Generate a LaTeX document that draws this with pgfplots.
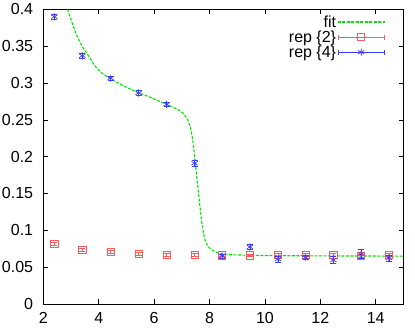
\documentclass[border=0pt]{standalone}
\usepackage{fontspec}
\setmainfont{Liberation Sans}
\usepackage{pgfplots}
\pgfplotsset{compat=1.18}
\usetikzlibrary{arrows.meta}
\definecolor{fitgreen}{RGB}{0,230,0}
\definecolor{repred}{RGB}{255,90,90}
\definecolor{repblue}{RGB}{60,60,255}
\begin{document}
\begin{tikzpicture}
\begin{axis}[
  name=ax,
  scale only axis,
  width=360.1pt, height=294.7pt,
  xmin=2, xmax=15, ymin=0, ymax=0.4,
  xtick={2,4,6,8,10,12,14},
  ytick={0,0.05,0.1,0.15,0.2,0.25,0.3,0.35,0.4},
  yticklabel style={/pgf/number format/fixed, /pgf/number format/precision=2, inner sep=0pt, xshift=-10pt},
  xticklabel style={inner sep=0pt, yshift=-8pt},
  /pgf/number format/assume math mode=true,
  tick label style={font=\fontsize{16}{19}\selectfont},
  tick align=inside,
  major tick length=4.7pt,
  axis line style={black, line width=0.8pt},
  every tick/.style={black, line width=0.6pt},
  legend plot pos=right,
  legend cell align=right,
  legend style={at={(1,1)}, anchor=north east, xshift=-18pt, yshift=-5pt,
    draw=none, fill=none, font=\fontsize{16}{17.5}\selectfont,
    inner sep=0pt, row sep=0pt,
    nodes={inner sep=1pt}},
]
\addplot[fitgreen, line width=1.1pt, dash pattern=on 3pt off 1.5pt, smooth, tension=0.4,
  legend image code/.code={\draw[fitgreen, line width=1.1pt, dash pattern=on 3pt off 1.5pt] (4pt,0pt) -- (51pt,0pt);}]
coordinates {
(2.87,0.400)(3.0,0.386)(3.18,0.367)(3.4,0.350)(3.63,0.337)(3.87,0.323)(4.1,0.314)(4.41,0.306)
(4.9,0.296)(5.43,0.287)(5.9,0.280)(6.45,0.271)(6.8,0.265)(7.05,0.259)(7.2,0.251)(7.3,0.241)
(7.38,0.226)(7.45,0.205)(7.52,0.180)(7.6,0.152)(7.68,0.124)(7.76,0.101)(7.84,0.087)(7.95,0.078)
(8.1,0.073)(8.3,0.0695)(8.6,0.0675)(9.0,0.0666)(10,0.0658)(12,0.0653)(15,0.0650)
};
\addlegendentry{fit}
\addplot[repred, line width=0.7pt, only marks, mark=square, mark size=3.6pt,
  legend image code/.code={\draw[repred, line width=0.7pt, {Bar[width=5pt]}-{Bar[width=5pt]}] (4pt,0pt) -- (51pt,0pt);
    \draw[repred, line width=0.7pt] plot[only marks, mark=square, mark size=3.6pt] coordinates {(27.5pt,0pt)};},
  error bars/.cd, y dir=both, y explicit,
  error mark options={repred, line width=0.7pt, mark size=3pt, rotate=90}]
coordinates {
(2.40,0.0820) +- (0,0.002)
(3.41,0.0740) +- (0,0.002)
(4.43,0.0705) +- (0,0.002)
(5.44,0.0686) +- (0,0.002)
(6.45,0.0672) +- (0,0.002)
(7.46,0.0662) +- (0,0.002)
(8.46,0.0660) +- (0,0.002)
(9.46,0.0660) +- (0,0.002)
(10.47,0.0665) +- (0,0.002)
(11.47,0.0664) +- (0,0.002)
(12.47,0.0668) +- (0,0.002)
(13.47,0.0655) +- (0,0.002)
(14.47,0.0662) +- (0,0.002)
};
\addlegendentry{rep \{2\}}
\addplot[repblue, line width=0.7pt, only marks, mark=asterisk, mark size=3.6pt,
  legend image code/.code={\draw[repblue, line width=0.7pt, {Bar[width=5pt]}-{Bar[width=5pt]}] (4pt,0pt) -- (51pt,0pt);
    \draw[repblue, line width=0.7pt] plot[only marks, mark=asterisk, mark size=3.6pt] coordinates {(27.5pt,0pt)};},
  error bars/.cd, y dir=both, y explicit,
  error mark options={repblue, line width=0.7pt, mark size=3pt, rotate=90}]
coordinates {
(2.40,0.3900) +- (0,0.003)
(3.41,0.3370) +- (0,0.003)
(4.43,0.3065) +- (0,0.003)
(5.44,0.2865) +- (0,0.003)
(6.45,0.2710) +- (0,0.003)
(7.46,0.1910) +- (0,0.004)
(8.46,0.0650) +- (0,0.003)
(9.46,0.0775) +- (0,0.003)
(10.47,0.0610) +- (0,0.004)
(11.47,0.0630) +- (0,0.003)
(12.47,0.0595) +- (0,0.005)
(13.47,0.0675) +- (0,0.006)
(14.47,0.0625) +- (0,0.004)
};
\addlegendentry{rep \{4\}}
\end{axis}
\path (ax.south west) ++(-43.3pt,-28pt) (ax.north east) ++(11.6pt,9.3pt);
\end{tikzpicture}
\end{document}
